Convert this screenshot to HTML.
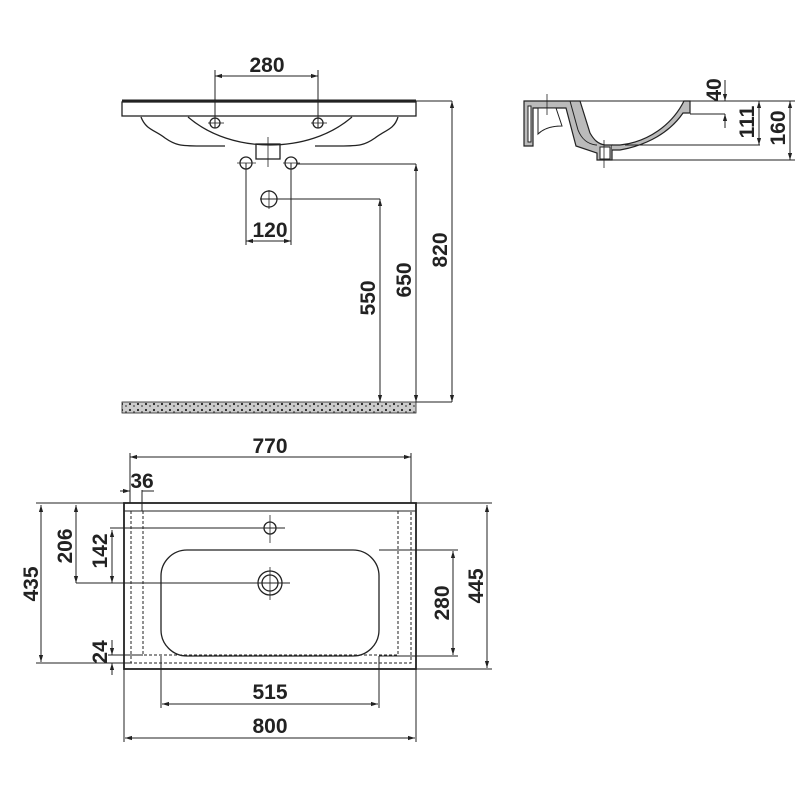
<!DOCTYPE html>
<html><head><meta charset="utf-8"><style>
html,body{margin:0;padding:0;background:#fff}
svg{display:block}
text{font-family:"Liberation Sans Narrow","Liberation Sans",sans-serif;font-weight:bold;font-size:21px;fill:#222;text-anchor:middle}
</style></head><body>
<svg width="800" height="800" viewBox="0 0 800 800" xmlns="http://www.w3.org/2000/svg">
<defs>
<marker id="a" viewBox="0 0 10 10" refX="10" refY="5" markerWidth="7" markerHeight="7" orient="auto-start-reverse"><path d="M0,2 L10,5 L0,8 z" fill="#222"/></marker>
<pattern id="sp" width="8" height="6" patternUnits="userSpaceOnUse"><rect width="8" height="6" fill="#ccc"/><circle cx="2" cy="2" r="1.1" fill="#222"/><circle cx="6" cy="4" r="0.9" fill="#444"/></pattern>
</defs>
<g stroke="#222" fill="none" stroke-width="1.3">
<line x1="122" y1="101" x2="416" y2="101" stroke-width="3"/>
<rect x="122" y="102" width="294" height="14"/>
<path d="M141,117 C146,130 155,130 165,138 C175,145 180,146 200,146 L225,146"/>
<path d="M188,117 C210,136 240,145 270,145 C300,145 330,136 352,117"/>
<path d="M398,117 C394,130 385,130 375,138 C365,145 360,146 340,146 L315,146" />
<rect x="256" y="144" width="24" height="15"/>
<line x1="268" y1="137" x2="268" y2="167" stroke-width="0.8"/>
<circle cx="215" cy="123" r="5"/><circle cx="318" cy="123" r="5"/>
<line x1="208" y1="123" x2="224" y2="123" stroke-width="0.8"/><line x1="311" y1="123" x2="327" y2="123" stroke-width="0.8"/>
<circle cx="246" cy="163" r="6"/><circle cx="291" cy="163" r="6"/>
<line x1="237" y1="163" x2="256" y2="163" stroke-width="0.8"/><line x1="283" y1="163" x2="300" y2="163" stroke-width="0.8"/>
<circle cx="269" cy="199" r="8"/>
<line x1="260" y1="199" x2="380" y2="199" stroke-width="1"/>
<line x1="269" y1="190" x2="269" y2="209" stroke-width="0.8"/>
<line x1="215" y1="70" x2="215" y2="128" stroke-width="1"/><line x1="318" y1="70" x2="318" y2="128" stroke-width="1"/>
<line x1="215" y1="76" x2="318" y2="76" stroke-width="1" marker-start="url(#a)" marker-end="url(#a)"/>
<line x1="246" y1="163" x2="246" y2="245" stroke-width="1"/><line x1="291" y1="163" x2="291" y2="245" stroke-width="1"/>
<line x1="246" y1="241" x2="291" y2="241" stroke-width="1" marker-start="url(#a)" marker-end="url(#a)"/>
<line x1="297" y1="164" x2="416" y2="164" stroke-width="1"/>
<line x1="416" y1="101" x2="452" y2="101" stroke-width="1"/>
<line x1="416" y1="402" x2="452" y2="402" stroke-width="1"/>
<line x1="380" y1="199" x2="380" y2="402" stroke-width="1" marker-start="url(#a)" marker-end="url(#a)"/>
<line x1="416" y1="164" x2="416" y2="402" stroke-width="1" marker-start="url(#a)" marker-end="url(#a)"/>
<line x1="452" y1="101" x2="452" y2="402" stroke-width="1" marker-start="url(#a)" marker-end="url(#a)"/>
<rect x="122" y="402" width="294" height="11" fill="url(#sp)" stroke-width="0.8"/>
<path d="M524,101 L570,101 L580,101 L590,133 C594,140 598,144 605,145 L612,145 L612,160 L597,160 L597,153 L576,146 L566,108 L533,108 L533,146 L524,146 Z" fill="#bbb" stroke-width="1.2"/>
<path d="M528,106 L528,142 L531,142 L531,106 Z M538,108 L538,134 C545,127 556,126 562,126 L556,108 Z" fill="#fff" stroke-width="1"/>
<path d="M570,101 L578,130 C582,140 588,144 596,145 L597,145" stroke-width="1"/>
<path d="M612,145 L620,145 C648,142 672,125 684,101 L690,101 L690,113 L683,113 C670,132 648,145 620,150 L612,150" fill="#bbb" stroke-width="1.2"/>
<rect x="600" y="147" width="10" height="12" fill="#fff" stroke-width="1"/>
<line x1="570" y1="101" x2="760" y2="101" stroke-width="1"/>
<line x1="547" y1="94" x2="547" y2="115" stroke-width="0.8"/>
<line x1="604" y1="140" x2="604" y2="168" stroke-width="0.8"/>
<line x1="690" y1="114" x2="725" y2="114" stroke-width="1"/>
<line x1="725" y1="80" x2="725" y2="101" stroke-width="1" marker-end="url(#a)"/>
<line x1="725" y1="128" x2="725" y2="114" stroke-width="1" marker-end="url(#a)"/>
<line x1="625" y1="145" x2="760" y2="145" stroke-width="1"/>
<line x1="612" y1="160" x2="795" y2="160" stroke-width="1"/>
<line x1="760" y1="101" x2="795" y2="101" stroke-width="1"/>
<line x1="759" y1="101" x2="759" y2="145" stroke-width="1" marker-start="url(#a)" marker-end="url(#a)"/>
<line x1="790" y1="101" x2="790" y2="160" stroke-width="1" marker-start="url(#a)" marker-end="url(#a)"/>
<rect x="124" y="503" width="292" height="166" stroke-width="1.8"/>
<line x1="124" y1="511" x2="416" y2="511" stroke-width="1"/>
<path d="M131,511 L131,663 L411,663 L411,511" stroke-dasharray="3,2" stroke-width="1"/>
<path d="M143,511 L143,655 L398,655 L398,511" stroke-dasharray="3,2" stroke-width="1"/>
<rect x="161" y="550" width="218" height="106" rx="26" stroke-width="1.3"/>
<circle cx="270" cy="528" r="6"/>
<line x1="270" y1="515" x2="270" y2="543" stroke-width="0.8"/>
<circle cx="270" cy="583" r="12"/><circle cx="270" cy="583" r="8"/>
<line x1="270" y1="567" x2="270" y2="600" stroke-width="0.8"/>
<line x1="110" y1="528" x2="285" y2="528" stroke-width="1"/>
<line x1="76" y1="583" x2="290" y2="583" stroke-width="1"/>
<line x1="130" y1="453" x2="130" y2="503" stroke-width="1"/><line x1="411" y1="453" x2="411" y2="503" stroke-width="1"/>
<line x1="130" y1="457" x2="411" y2="457" stroke-width="1" marker-start="url(#a)" marker-end="url(#a)"/>
<line x1="142" y1="490" x2="142" y2="511" stroke-width="1"/>
<line x1="120" y1="491" x2="130" y2="491" stroke-width="1" marker-end="url(#a)"/>
<line x1="142" y1="491" x2="154" y2="491" stroke-width="1"/>
<line x1="36" y1="503" x2="124" y2="503" stroke-width="1"/>
<line x1="36" y1="663" x2="131" y2="663" stroke-width="1"/>
<line x1="41" y1="505" x2="41" y2="662" stroke-width="1" marker-start="url(#a)" marker-end="url(#a)"/>
<line x1="76" y1="505" x2="76" y2="583" stroke-width="1" marker-start="url(#a)" marker-end="url(#a)"/>
<line x1="112" y1="530" x2="112" y2="583" stroke-width="1" marker-start="url(#a)" marker-end="url(#a)"/>
<line x1="108" y1="655" x2="143" y2="655" stroke-width="1"/>
<line x1="112" y1="640" x2="112" y2="655" stroke-width="1" marker-end="url(#a)"/>
<line x1="112" y1="675" x2="112" y2="663" stroke-width="1" marker-end="url(#a)"/>
<line x1="379" y1="550" x2="458" y2="550" stroke-width="1"/>
<line x1="379" y1="656" x2="458" y2="656" stroke-width="1"/>
<line x1="453" y1="551" x2="453" y2="655" stroke-width="1" marker-start="url(#a)" marker-end="url(#a)"/>
<line x1="416" y1="503" x2="492" y2="503" stroke-width="1"/>
<line x1="416" y1="669" x2="492" y2="669" stroke-width="1"/>
<line x1="487" y1="505" x2="487" y2="668" stroke-width="1" marker-start="url(#a)" marker-end="url(#a)"/>
<line x1="161" y1="656" x2="161" y2="708" stroke-width="1"/><line x1="379" y1="656" x2="379" y2="708" stroke-width="1"/>
<line x1="162" y1="704" x2="378" y2="704" stroke-width="1" marker-start="url(#a)" marker-end="url(#a)"/>
<line x1="124" y1="669" x2="124" y2="742" stroke-width="1"/><line x1="416" y1="669" x2="416" y2="742" stroke-width="1"/>
<line x1="125" y1="738" x2="415" y2="738" stroke-width="1" marker-start="url(#a)" marker-end="url(#a)"/>
</g>
<text x="267" y="72">280</text>
<text x="270" y="237">120</text>
<text transform="translate(375,298) rotate(-90)">550</text>
<text transform="translate(411,280) rotate(-90)">650</text>
<text transform="translate(447,250) rotate(-90)">820</text>
<text transform="translate(721,90) rotate(-90)" font-size="17">40</text>
<text transform="translate(754,122) rotate(-90)">111</text>
<text transform="translate(785,128) rotate(-90)">160</text>
<text x="270" y="453">770</text>
<text x="142" y="488">36</text>
<text transform="translate(38,584) rotate(-90)">435</text>
<text transform="translate(72,546) rotate(-90)">206</text>
<text transform="translate(107,551) rotate(-90)">142</text>
<text transform="translate(107,652) rotate(-90)">24</text>
<text transform="translate(449,603) rotate(-90)">280</text>
<text transform="translate(483,586) rotate(-90)">445</text>
<text x="270" y="699">515</text>
<text x="270" y="733">800</text>
</svg>
</body></html>
